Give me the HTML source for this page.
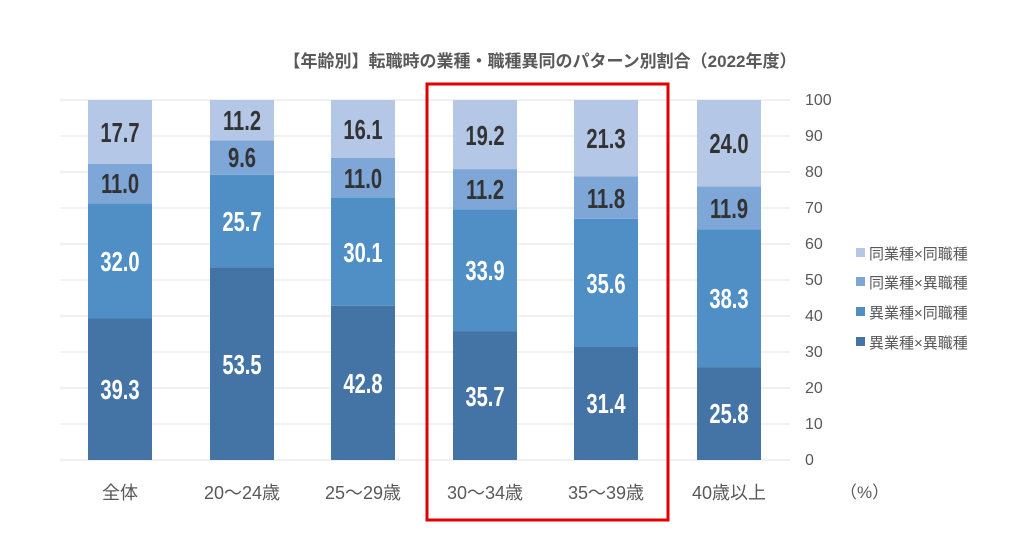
<!DOCTYPE html>
<html><head><meta charset="utf-8"><style>
body{margin:0;background:#fff;}
svg text{font-family:"Liberation Sans","Noto Sans CJK JP",sans-serif;}
</style></head><body>
<svg width="1024" height="539" xmlns="http://www.w3.org/2000/svg">
<rect width="1024" height="539" fill="#fff"/>
<text x="540" y="67" text-anchor="middle" font-size="17" font-weight="bold" fill="#595959">【年齢別】転職時の業種・職種異同のパターン別割合（2022年度）</text>
<g stroke="#e3e3e3" stroke-width="1">
<line x1="60" y1="100" x2="790" y2="100"/><line x1="60" y1="136" x2="790" y2="136"/>
<line x1="60" y1="172" x2="790" y2="172"/><line x1="60" y1="208" x2="790" y2="208"/>
<line x1="60" y1="244" x2="790" y2="244"/><line x1="60" y1="280" x2="790" y2="280"/>
<line x1="60" y1="316" x2="790" y2="316"/><line x1="60" y1="352" x2="790" y2="352"/>
<line x1="60" y1="388" x2="790" y2="388"/><line x1="60" y1="424" x2="790" y2="424"/>
<line x1="60" y1="460" x2="790" y2="460"/>
</g>
<g font-size="16" fill="#595959">
<text x="805" y="105">100</text><text x="805" y="141">90</text><text x="805" y="177">80</text>
<text x="805" y="213">70</text><text x="805" y="249">60</text><text x="805" y="285">50</text>
<text x="805" y="321">40</text><text x="805" y="357">30</text><text x="805" y="393">20</text>
<text x="805" y="429">10</text><text x="805" y="465">0</text>
<text x="840" y="498" font-size="17">（%）</text>
</g>

<g>
<rect x="88" y="318.5" width="64" height="141.5" fill="#4474a6"/>
<rect x="88" y="203.3" width="64" height="115.2" fill="#4f8fc6"/>
<rect x="88" y="163.7" width="64" height="39.6" fill="#7ea7d8"/>
<rect x="88" y="100" width="64" height="63.7" fill="#b4c7e7"/>

<rect x="210" y="267.4" width="64" height="192.6" fill="#4474a6"/>
<rect x="210" y="174.9" width="64" height="92.5" fill="#4f8fc6"/>
<rect x="210" y="140.3" width="64" height="34.6" fill="#7ea7d8"/>
<rect x="210" y="100" width="64" height="40.3" fill="#b4c7e7"/>

<rect x="331" y="305.9" width="64" height="154.1" fill="#4474a6"/>
<rect x="331" y="197.6" width="64" height="108.3" fill="#4f8fc6"/>
<rect x="331" y="158" width="64" height="39.6" fill="#7ea7d8"/>
<rect x="331" y="100" width="64" height="58" fill="#b4c7e7"/>

<rect x="453" y="331.5" width="64" height="128.5" fill="#4474a6"/>
<rect x="453" y="209.4" width="64" height="122.1" fill="#4f8fc6"/>
<rect x="453" y="169.1" width="64" height="40.3" fill="#7ea7d8"/>
<rect x="453" y="100" width="64" height="69.1" fill="#b4c7e7"/>

<rect x="574" y="347" width="64" height="113" fill="#4474a6"/>
<rect x="574" y="218.8" width="64" height="128.2" fill="#4f8fc6"/>
<rect x="574" y="176.3" width="64" height="42.5" fill="#7ea7d8"/>
<rect x="574" y="100" width="64" height="76.3" fill="#b4c7e7"/>

<rect x="697" y="367.1" width="64" height="92.9" fill="#4474a6"/>
<rect x="697" y="229.2" width="64" height="137.9" fill="#4f8fc6"/>
<rect x="697" y="186.4" width="64" height="42.8" fill="#7ea7d8"/>
<rect x="697" y="100" width="64" height="86.4" fill="#b4c7e7"/>
</g>

<g font-size="28" font-weight="bold" text-anchor="middle">
<g transform="translate(120,0) scale(0.72,1)">
<text x="0" y="399" fill="#fff">39.3</text><text x="0" y="271" fill="#fff">32.0</text>
<text x="0" y="193" fill="#333">11.0</text><text x="0" y="142" fill="#333">17.7</text></g>
<g transform="translate(242,0) scale(0.72,1)">
<text x="0" y="374" fill="#fff">53.5</text><text x="0" y="231" fill="#fff">25.7</text>
<text x="0" y="167" fill="#333">9.6</text><text x="0" y="130" fill="#333">11.2</text></g>
<g transform="translate(363,0) scale(0.72,1)">
<text x="0" y="393" fill="#fff">42.8</text><text x="0" y="262" fill="#fff">30.1</text>
<text x="0" y="188" fill="#333">11.0</text><text x="0" y="139" fill="#333">16.1</text></g>
<g transform="translate(485,0) scale(0.72,1)">
<text x="0" y="406" fill="#fff">35.7</text><text x="0" y="280" fill="#fff">33.9</text>
<text x="0" y="199" fill="#333">11.2</text><text x="0" y="145" fill="#333">19.2</text></g>
<g transform="translate(606,0) scale(0.72,1)">
<text x="0" y="413" fill="#fff">31.4</text><text x="0" y="293" fill="#fff">35.6</text>
<text x="0" y="208" fill="#333">11.8</text><text x="0" y="148" fill="#333">21.3</text></g>
<g transform="translate(729,0) scale(0.72,1)">
<text x="0" y="423" fill="#fff">25.8</text><text x="0" y="308" fill="#fff">38.3</text>
<text x="0" y="218" fill="#333">11.9</text><text x="0" y="153" fill="#333">24.0</text></g>
</g>

<g font-size="18" fill="#595959" text-anchor="middle">
<text x="120" y="499">全体</text><text x="242" y="499">20～24歳</text><text x="363" y="499">25～29歳</text>
<text x="485" y="499">30～34歳</text><text x="606" y="499">35～39歳</text><text x="729" y="499">40歳以上</text>
</g>

<g font-size="15" fill="#595959">
<rect x="856" y="248" width="9" height="9" fill="#b4c7e7"/><text x="869" y="259">同業種×同職種</text>
<rect x="856" y="277" width="9" height="9" fill="#7ea7d8"/><text x="869" y="288">同業種×異職種</text>
<rect x="856" y="307" width="9" height="9" fill="#4f8fc6"/><text x="869" y="318">異業種×同職種</text>
<rect x="856" y="337" width="9" height="9" fill="#4474a6"/><text x="869" y="348">異業種×異職種</text>
</g>
<rect x="427" y="84" width="241" height="436" fill="none" stroke="#e00000" stroke-width="3"/>
</svg>
</body></html>
